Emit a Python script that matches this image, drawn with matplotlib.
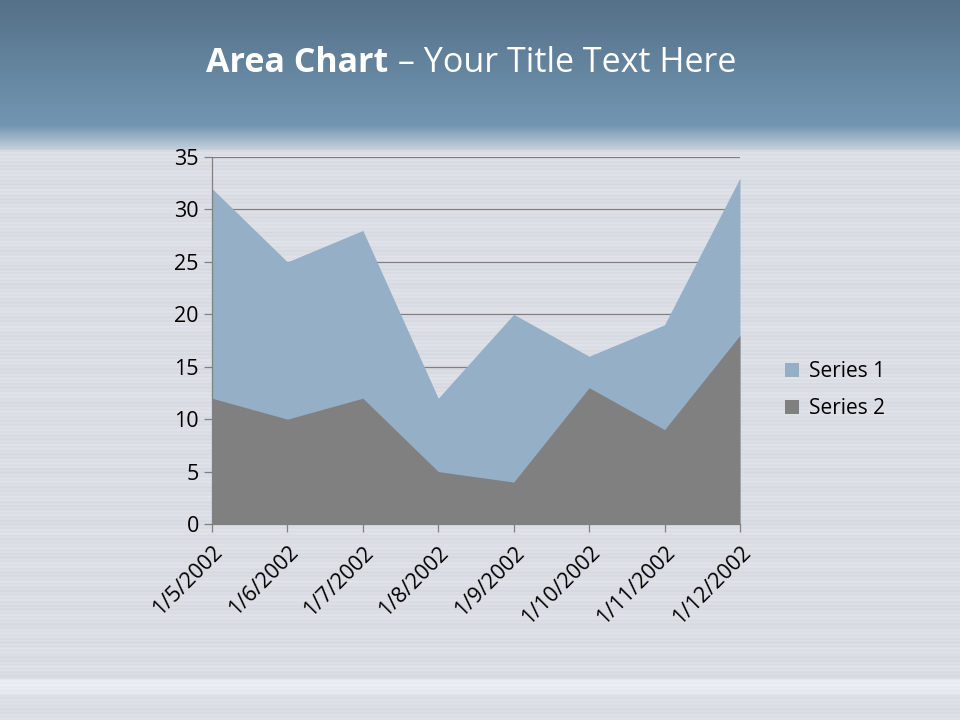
import matplotlib.pyplot as plt
import numpy as np

dates = ['1/5/2002', '1/6/2002', '1/7/2002', '1/8/2002', '1/9/2002',
         '1/10/2002', '1/11/2002', '1/12/2002']
series1 = [32, 25, 28, 12, 20, 16, 19, 33]
series2 = [12, 10, 12, 5, 4, 13, 9, 18]

plt.rcParams['font.family'] = ['Open Sans', 'DejaVu Sans']

fig = plt.figure(figsize=(9.6, 7.2), dpi=100)

# background: blue band on top, brushed silver below
bg = fig.add_axes([0, 0, 1, 1])
bg.set_axis_off()
h = 720
top_c = np.array([0x55, 0x70, 0x88]) / 255
mid_c = np.array([0x72, 0x96, 0xB2]) / 255
silver = np.array([0xDB, 0xDF, 0xE5]) / 255
img = np.zeros((h, 1, 3))
for r in range(h):
    if r < 125:
        t = r / 125
        c = top_c * (1 - t) + mid_c * t
    elif r < 150:
        t = (r - 125) / 25
        c = mid_c * (1 - t) + np.array([0xC8, 0xD3, 0xDD]) / 255 * t
    else:
        c = silver + 0.012 * np.sin(r * 1.7) + 0.01 * np.sin(r * 0.37)
        if 678 < r < 695:
            c = c + 0.05
    img[r, 0] = np.clip(c, 0, 1)
bg.imshow(img, aspect='auto', extent=[0, 1, 0, 1])
bg.set_xlim(0, 1)
bg.set_ylim(0, 1)

# title
renderer = fig.canvas.get_renderer()
t1 = fig.text(0.215, 0.912, 'Area Chart', color='white', fontsize=24.5,
              fontweight='bold', va='center', ha='left')
bb = t1.get_window_extent(renderer)
fig.text(bb.x1 / fig.bbox.width, 0.912, ' \u2013 Your Title Text Here', color='white',
         fontsize=24.5, va='center', ha='left')

ax = fig.add_axes([0.2208, 0.2722, 0.55, 0.5097])
ax.patch.set_alpha(0)
x = np.arange(len(dates))
ax.fill_between(x, series1, color='#95AFC6', label='Series 1', zorder=2, lw=0)
ax.fill_between(x, series2, color='#808080', label='Series 2', zorder=3, lw=0)

ax.set_xlim(0, len(dates) - 1)
ax.set_ylim(0, 35)
ax.set_yticks(range(0, 36, 5))
ax.yaxis.grid(True, color='#808080', lw=0.9, zorder=1)
ax.set_axisbelow(True)
ax.set_xticks(x)
ax.set_xticklabels(dates, rotation=45, ha='right', rotation_mode='anchor')
ax.tick_params(axis='both', labelsize=15.5, color='#808080', length=6, width=0.9)
ax.tick_params(axis='x', pad=7)
for s in ['top', 'right']:
    ax.spines[s].set_visible(False)
for s in ['left', 'bottom']:
    ax.spines[s].set_color('#808080')
    ax.spines[s].set_linewidth(0.9)

ax.legend(loc='center left', bbox_to_anchor=(1.05, 0.365), frameon=False,
          fontsize=15, handlelength=0.65, handleheight=0.65, handletextpad=0.5,
          labelspacing=0.75)

fig.savefig('out.png', dpi=100)
